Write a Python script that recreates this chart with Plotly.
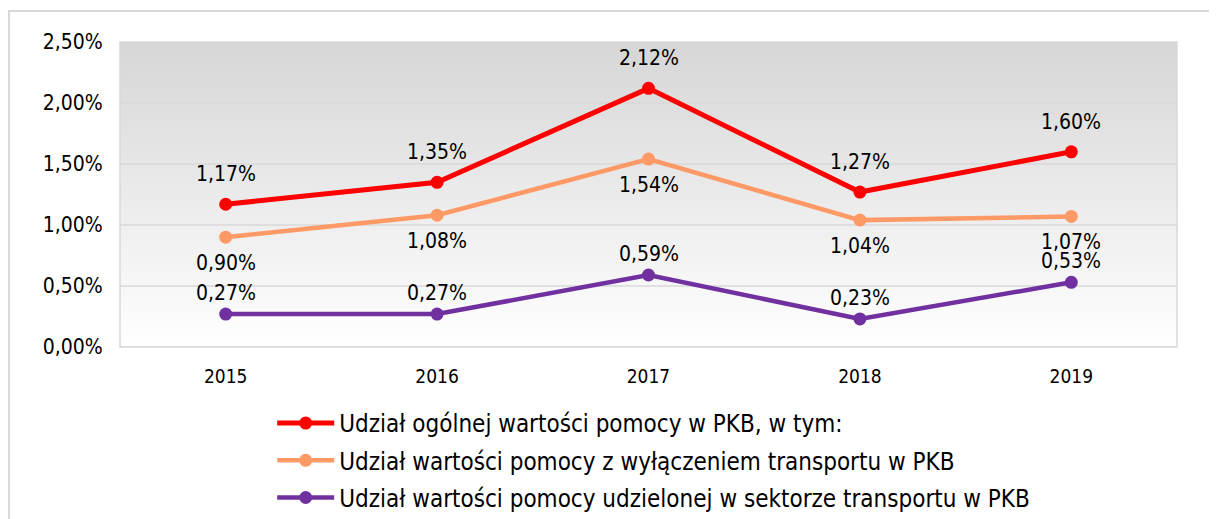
import plotly.graph_objects as go

years = ["2015", "2016", "2017", "2018", "2019"]
total = [1.17, 1.35, 2.12, 1.27, 1.60]
excl_transport = [0.90, 1.08, 1.54, 1.04, 1.07]
transport = [0.27, 0.27, 0.59, 0.23, 0.53]
y_ticks = [0.0, 0.5, 1.0, 1.5, 2.0, 2.5]

names = [
    "Udział ogólnej wartości pomocy w PKB, w tym:",
    "Udział wartości pomocy z wyłączeniem transportu w PKB",
    "Udział wartości pomocy udzielonej w sektorze transportu w PKB",
]
colors = ["#FF0000", "#FF9966", "#7030A0"]
widths = [5, 4.5, 4.5]
label_shift = [30, -26, 21]

FONT = "DejaVu Sans Condensed"
FS = 21

def pct(v):
    return f"{v:.2f}%".replace(".", ",")

xs = list(range(len(years)))
x0, x1 = -0.5, len(years) - 0.5
ymin, ymax = y_ticks[0], y_ticks[-1]

fig = go.Figure()

# gradient plot background
fig.add_trace(go.Scatter(
    x=[x0, x1, x1, x0, x0], y=[ymin, ymin, ymax, ymax, ymin],
    fill="toself", mode="lines", line=dict(width=0),
    fillgradient=dict(type="vertical", start=ymin, stop=ymax,
                      colorscale=[[0, "#ffffff"], [1, "#d6d6d6"]]),
    showlegend=False, hoverinfo="skip"))

# grid lines
gx, gy = [], []
for t in y_ticks:
    gx += [x0, x1, None]
    gy += [t, t, None]
fig.add_trace(go.Scatter(x=gx, y=gy, mode="lines",
                         line=dict(color="#d9d9d9", width=1.5),
                         showlegend=False, hoverinfo="skip"))

series = [total, excl_transport, transport]
for i, (vals, name, col, w) in enumerate(zip(series, names, colors, widths)):
    fig.add_trace(go.Scatter(
        x=xs, y=vals, name=name, mode="lines+markers",
        line=dict(color=col, width=w),
        marker=dict(color=col, size=13),
        legendgroup=f"g{i}"))
    for xv, v in zip(xs, vals):
        fig.add_annotation(x=xv, y=v, text=pct(v), showarrow=False,
                           yshift=label_shift[i],
                           font=dict(family=FONT, size=FS, color="#000000"))

# outer border
fig.add_shape(type="rect", xref="paper", yref="paper",
              x0=-0.1050, x1=1.036, y0=-0.6, y1=1.1016,
              line=dict(color="#d9d9d9", width=2), fillcolor="rgba(0,0,0,0)",
              layer="below")
# plot area border
fig.add_shape(type="rect", xref="paper", yref="paper",
              x0=0, x1=1, y0=0, y1=1,
              line=dict(color="#d9d9d9", width=1.5), fillcolor="rgba(0,0,0,0)")

fig.update_layout(
    width=1209, height=511,
    margin=dict(l=112, r=40, t=34, b=172, autoexpand=False),
    paper_bgcolor="#ffffff", plot_bgcolor="#ffffff",
    font=dict(family=FONT, size=FS, color="#000000"),
    showlegend=True,
    legend=dict(orientation="v", x=0.144, xanchor="left", y=-0.177, yanchor="top",
                itemwidth=57, tracegroupgap=3, bgcolor="rgba(0,0,0,0)",
                font=dict(family=FONT, size=24)),
    xaxis=dict(range=[x0, x1], tickvals=xs, ticktext=years, showgrid=False,
               zeroline=False, showline=False, ticks="outside", ticklen=12,
               tickcolor="rgba(0,0,0,0)",
               tickfont=dict(family=FONT, size=19),
               fixedrange=True),
    yaxis=dict(range=[ymin, ymax], tickvals=y_ticks,
               ticktext=[pct(t) for t in y_ticks], showgrid=False,
               zeroline=False, showline=False, ticks="outside", ticklen=12,
               tickcolor="rgba(0,0,0,0)"),
)

fig.write_html("out.html")
